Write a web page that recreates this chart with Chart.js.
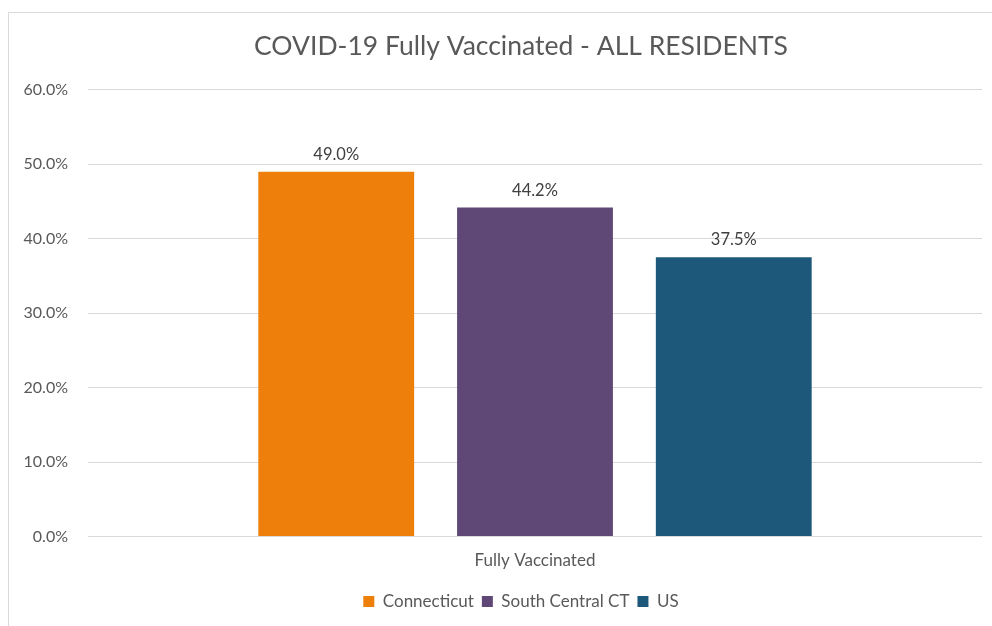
<!DOCTYPE html>
<html>
<head>
<meta charset="utf-8">
<script src="https://cdn.jsdelivr.net/npm/chart.js@4"></script>
<style>
  html, body { margin: 0; padding: 0; background: #fff; overflow: hidden; }
  #wrap { position: relative; width: 992px; height: 626px; overflow: hidden; }
  #frame {
    position: absolute; left: 8px; top: 12px; width: 1100px; height: 700px;
    border-left: 1px solid #d9d9d9; border-top: 1px solid #d9d9d9;
    pointer-events: none;
  }
  canvas { position: absolute; left: 0; top: 0; }
</style>
</head>
<body>
<div id="wrap">
  <!-- the chart frame runs past the right edge of the page -->
  <canvas id="vaxChart" width="1042" height="626"></canvas>
  <div id="frame"></div>
</div>
<script>
const categories = ['Fully Vaccinated'];
const seriesNames = ['Connecticut', 'South Central CT', 'US'];
const seriesValues = [[49.0], [44.2], [37.5]];
const seriesColors = ['#ee7f0b', '#5f4876', '#1d5779'];
const yTicks = [0, 10, 20, 30, 40, 50, 60];

const textGray = '#595959';
const fontFamily = 'Lato, "Open Sans", sans-serif';

// value labels above each bar
const barLabels = {
  id: 'barLabels',
  afterDatasetsDraw(chart) {
    const ctx = chart.ctx;
    ctx.save();
    ctx.font = '16.5px ' + fontFamily;
    ctx.fillStyle = '#404040';
    ctx.textAlign = 'center';
    ctx.textBaseline = 'bottom';
    chart.data.datasets.forEach((ds, i) => {
      chart.getDatasetMeta(i).data.forEach((bar, j) => {
        ctx.fillText(ds.data[j].toFixed(1) + '%', bar.x, bar.y - 9);
      });
    });
    ctx.restore();
  }
};

new Chart(document.getElementById('vaxChart'), {
  type: 'bar',
  data: {
    labels: categories,
    datasets: seriesNames.map((name, i) => ({
      label: name,
      data: seriesValues[i],
      backgroundColor: seriesColors[i],
      categoryPercentage: 0.667,
      barPercentage: 0.784
    }))
  },
  options: {
    responsive: false,
    animation: false,
    layout: { padding: { left: 0, right: 0, top: 31, bottom: 6 } },
    plugins: {
      title: {
        display: true,
        text: 'COVID-19 Fully Vaccinated - ALL RESIDENTS',
        color: textGray,
        font: { family: fontFamily, size: 26.5, weight: 'normal' },
        padding: { top: 0, bottom: 27 }
      },
      legend: {
        position: 'bottom',
        labels: {
          color: textGray,
          font: { family: fontFamily, size: 17 },
          boxWidth: 11,
          boxHeight: 11,
          padding: 8
        }
      },
      tooltip: { enabled: false }
    },
    scales: {
      x: {
        grid: { display: false, drawTicks: false },
        border: { display: false },
        ticks: { color: textGray, font: { family: fontFamily, size: 17 }, padding: 14 }
      },
      y: {
        min: 0,
        max: 60,
        afterBuildTicks(scale) { scale.ticks = yTicks.map(v => ({ value: v })); },
        afterFit(scale) { scale.width = 88; },
        grid: { color: '#d9d9d9', drawTicks: false },
        border: { display: false },
        ticks: {
          color: textGray,
          font: { family: fontFamily, size: 16 },
          padding: 20,
          callback: v => v.toFixed(1) + '%'
        }
      },
      // empty strip on the right, widens the frame past the plot
      pad: {
        type: 'linear',
        position: 'right',
        afterFit(scale) { scale.width = 60; },
        grid: { display: false, drawTicks: false },
        border: { display: false },
        ticks: { display: false }
      }
    }
  },
  plugins: [barLabels]
});
</script>
</body>
</html>
